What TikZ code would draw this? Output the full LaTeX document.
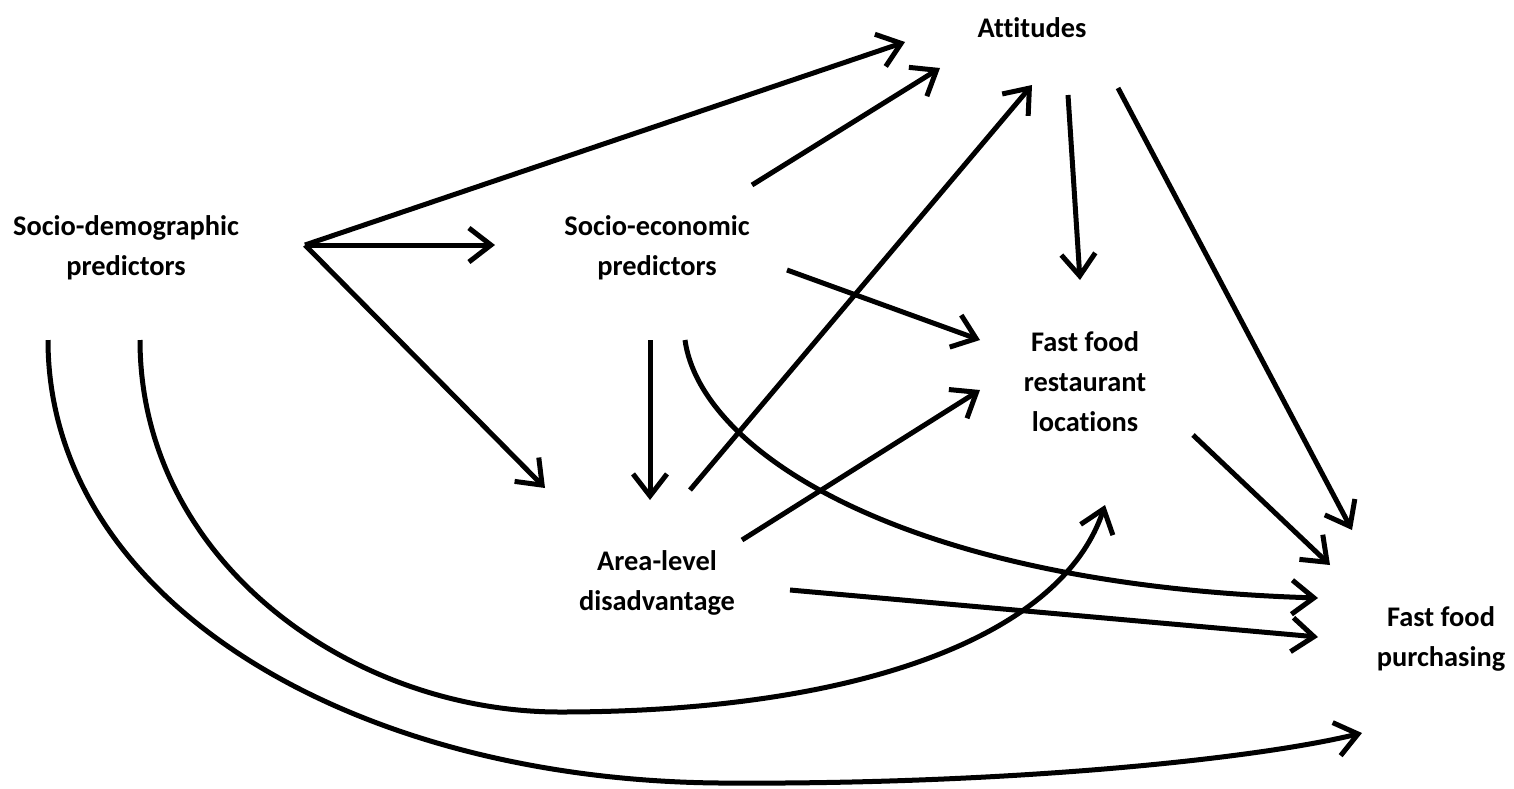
\documentclass[tikz,border=0pt]{standalone}
\usepackage{fontspec}
\setmainfont[Ligatures=NoCommon]{Carlito}
\usetikzlibrary{arrows.meta}
\begin{document}
\begin{tikzpicture}[x=0.5pt,y=-0.5pt,
  lbl/.style={align=center,font=\bfseries\fontsize{14.2}{20}\selectfont,inner sep=0pt},
  conn/.style={line width=2.5pt,-{Straight Barb[length=11pt,width=17pt,line width=2.5pt]}}]
\useasboundingbox (0,0) rectangle (1514,788);
\node[lbl] (att) at (1032,28) {Attitudes};
\node[lbl] (sd) at (126,248) {Socio-demographic\\predictors};
\node[lbl] (se) at (657,248) {Socio-economic\\predictors};
\node[lbl] (ffl) at (1085,382) {Fast food\\restaurant\\locations};
\node[lbl] (ald) at (657,583) {Area-level\\disadvantage};
\node[lbl] (ffp) at (1441,639) {Fast food\\purchasing};
% connector end points
\coordinate (sdR) at (305,245);
\coordinate (sdB1) at (48,340);
\coordinate (sdB2) at (140,340);
\coordinate (attIn1) at (905,42);
\coordinate (attIn2) at (940,68);
\coordinate (attIn3) at (1032,85);
\coordinate (attOut1) at (1068,95);
\coordinate (attOut2) at (1118,88);
\coordinate (seIn) at (495,245);
\coordinate (seOut1) at (752,185);
\coordinate (seOut2) at (787,270);
\coordinate (seOut3) at (650,340);
\coordinate (seOut4) at (685,340);
\coordinate (aldIn1) at (545,488);
\coordinate (aldIn2) at (650,500);
\coordinate (aldOut1) at (690,490);
\coordinate (aldOut2) at (742,540);
\coordinate (aldOut3) at (790,590);
\coordinate (fflIn1) at (980,340);
\coordinate (fflIn2) at (980,390);
\coordinate (fflIn3) at (1080,280);
\coordinate (fflIn4) at (1105,505);
\coordinate (fflOut) at (1193,435);
\coordinate (ffpIn1) at (1352,530);
\coordinate (ffpIn2) at (1330,565);
\coordinate (ffpIn3) at (1318,598);
\coordinate (ffpIn4) at (1318,637);
\coordinate (ffpIn5) at (1362,733);
% connectors
\draw[conn] (sdR) -- (attIn1);
\draw[conn] (sdR) -- (seIn);
\draw[conn] (sdR) -- (aldIn1);
\draw[conn] (seOut1) -- (attIn2);
\draw[conn] (seOut2) -- (fflIn1);
\draw[conn] (seOut3) -- (aldIn2);
\draw[conn] (aldOut1) -- (attIn3);
\draw[conn] (aldOut2) -- (fflIn2);
\draw[conn] (aldOut3) -- (ffpIn4);
\draw[conn] (attOut1) -- (fflIn3);
\draw[conn] (attOut2) -- (ffpIn1);
\draw[conn] (fflOut) -- (ffpIn2);
\draw[conn] (seOut4) .. controls (700,450) and (900,585) .. (ffpIn3);
\draw[conn] (sdB2) .. controls (140,560) and (350,712) .. (560,712) .. controls (850,712) and (1060,640) .. (fflIn4);
\draw[conn] (sdB1) .. controls (48,600) and (350,780) .. (720,783) .. controls (1000,785) and (1250,760) .. (ffpIn5);
\end{tikzpicture}
\end{document}
